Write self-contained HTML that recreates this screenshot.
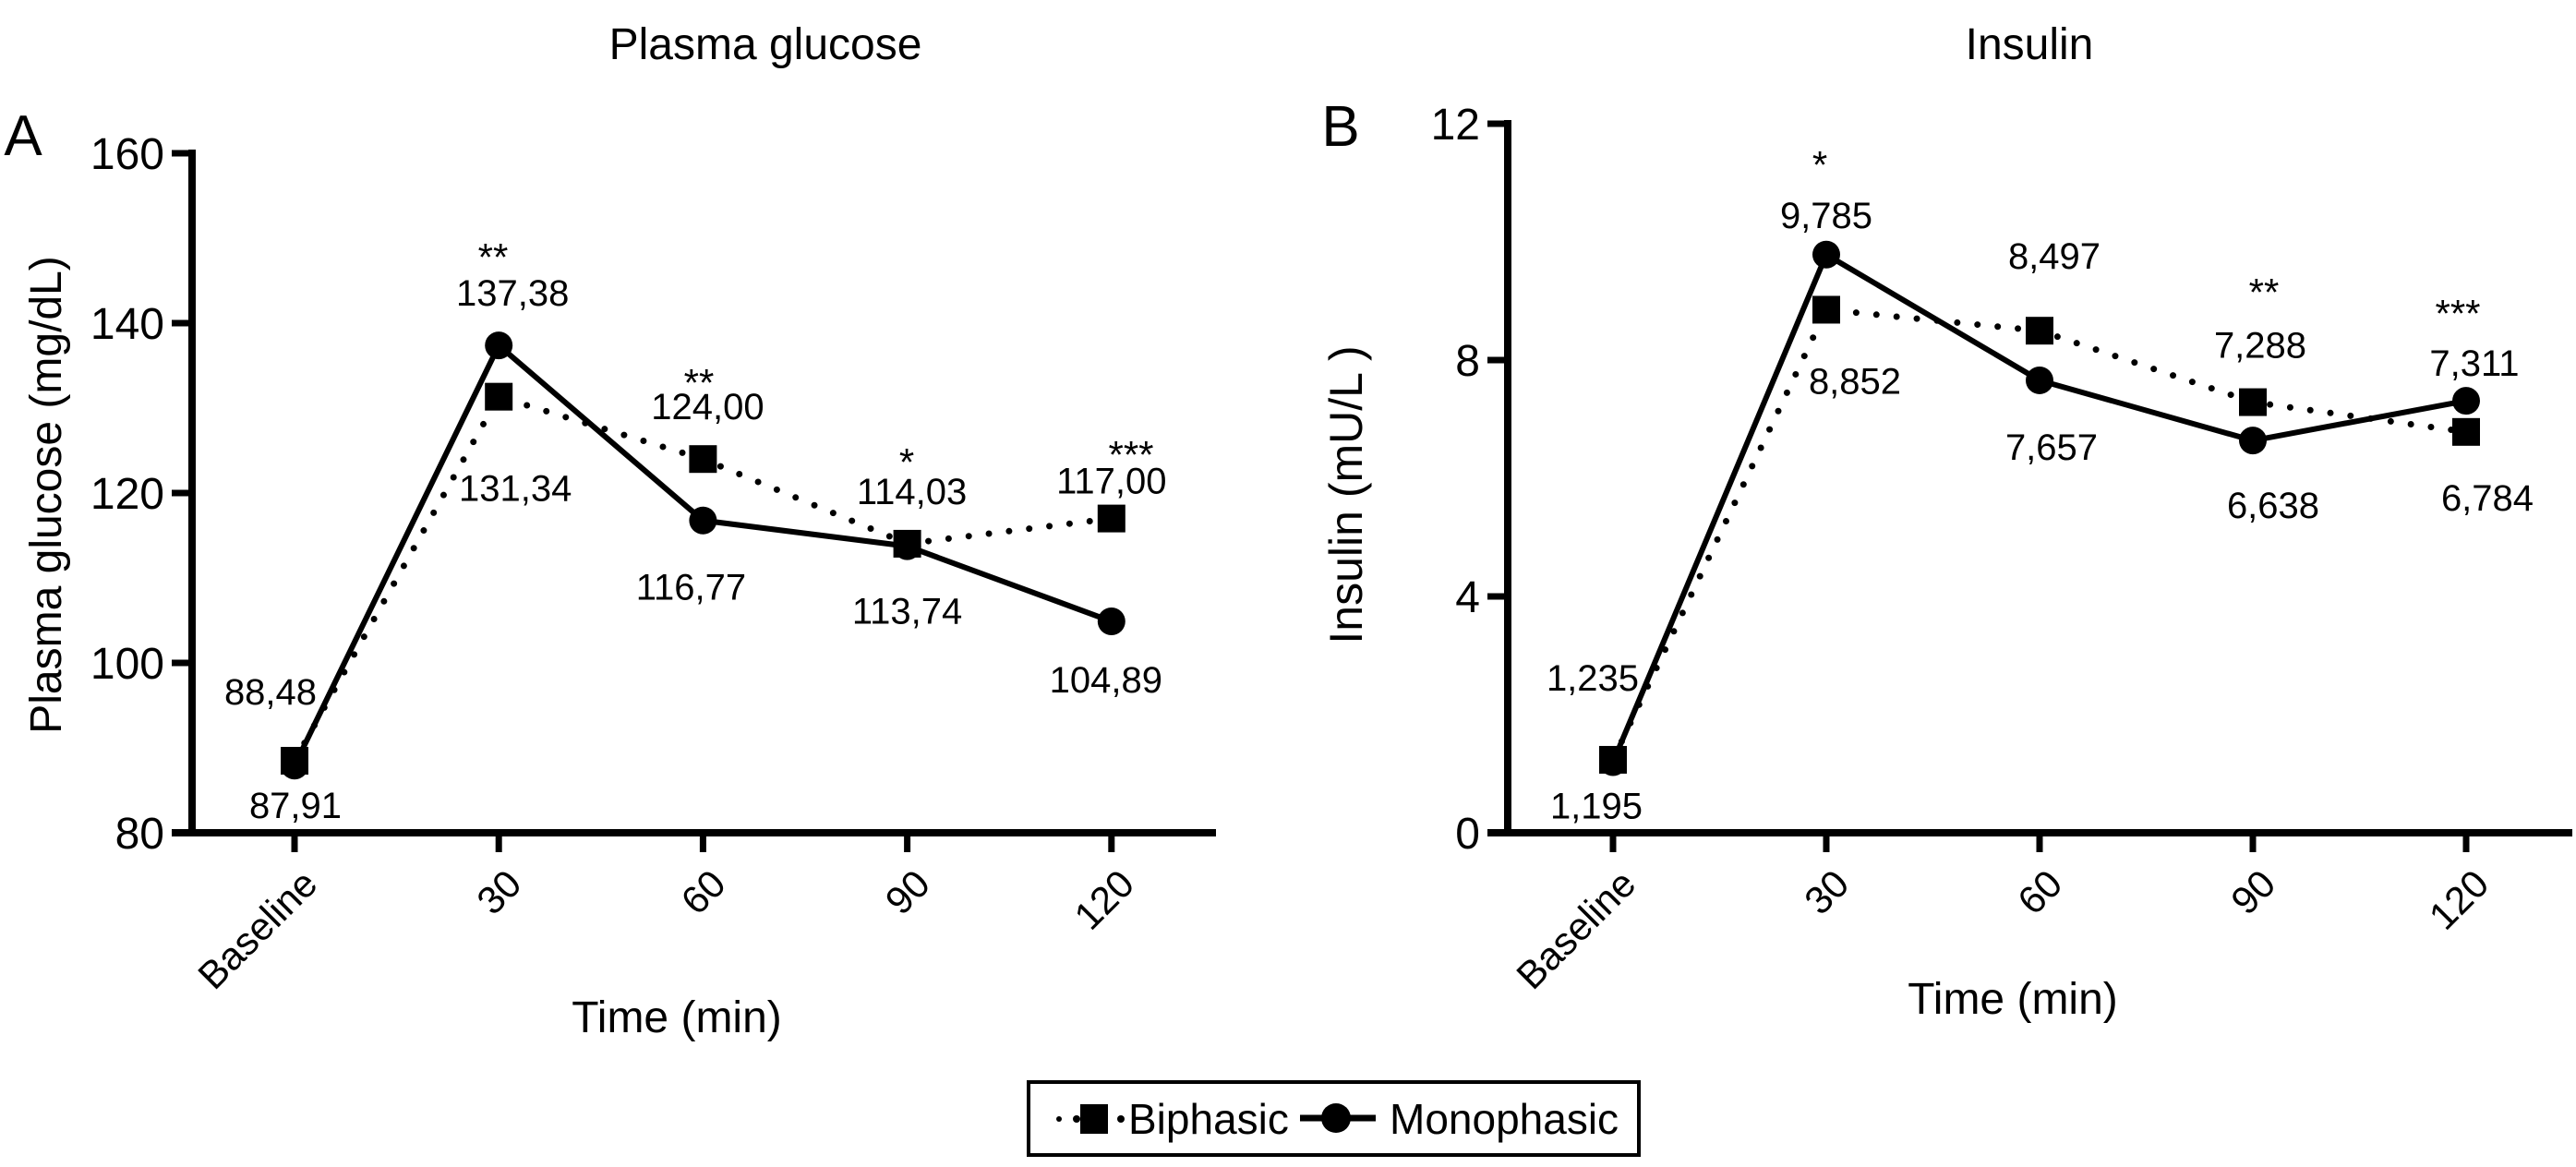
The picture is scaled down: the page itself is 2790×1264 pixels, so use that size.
<!DOCTYPE html>
<html><head><meta charset="utf-8"><style>
html,body{margin:0;padding:0;background:#fff;}
svg{display:block;font-family:"Liberation Sans",Arial,sans-serif;}
</style></head><body>
<svg id="chart" width="2790" height="1264" viewBox="0 0 2790 1264" xmlns="http://www.w3.org/2000/svg">
<g id="root"></g>
</svg>
<script>
const categories = ["Baseline","30","60","90","120"];
const glucoseBiphasic = [88.48,131.34,124.00,114.03,117.00];
const glucoseMonophasic = [87.91,137.38,116.77,113.74,104.89];
const insulinBiphasic = [1.235,8.852,8.497,7.288,6.784];
const insulinMonophasic = [1.195,9.785,7.657,6.638,7.311];
const glucoseStars = ["","**","**","*","***"];
const insulinStars = ["","*","","**","***"];
const glucoseTicks = [80,100,120,140,160];
const insulinTicks = [0,4,8,12];

const NS="http://www.w3.org/2000/svg";
const root=document.getElementById('root');
function mk(tag,attrs,parent){const e=document.createElementNS(NS,tag);for(const k in attrs)e.setAttribute(k,attrs[k]);(parent||root).appendChild(e);return e;}
function fmt(v,d){return v.toFixed(d).replace('.',',');}

function panel(cfg){
  const g=mk('g',{});
  
  
  const yS=v=>cfg.y0+(v-cfg.vmin)/(cfg.vmax-cfg.vmin)*(cfg.y1-cfg.y0);
  const xS=i=>cfg.cx0+i*cfg.dx;
  const ya=mk('line',{x1:cfg.ax,y1:cfg.y1-4,x2:cfg.ax,y2:cfg.y0+4,stroke:'#000','stroke-width':8},g);
  
  
  const xa=mk('line',{x1:cfg.ax-22,y1:cfg.y0,x2:cfg.xend,y2:cfg.y0,stroke:'#000','stroke-width':8},g);
  
  
  cfg.ticks.forEach(t=>{
    const y=yS(t);
    mk('line',{x1:cfg.ax-22,y1:y,x2:cfg.ax,y2:y,stroke:'#000','stroke-width':7},g);
    const tl=mk('text',{x:cfg.ax-30,y:y+17,'text-anchor':'end','font-size':48},g);
    tl.textContent=t;
    
    
  });
  categories.forEach((c,i)=>{
    const x=xS(i);
    mk('line',{x1:x,y1:cfg.y0,x2:x,y2:cfg.y0+21,stroke:'#000','stroke-width':7},g);
    const ex=x+27, ey=cfg.y0+58;
    const tl=mk('text',{x:ex,y:ey,'text-anchor':'end','font-size':42,transform:`rotate(-45 ${ex} ${ey})`},g);
    tl.textContent=c;
    
    
  });
  const bp=cfg.bi.map((v,i)=>`${xS(i)},${yS(v)}`).join(' ');
  const mp=cfg.mono.map((v,i)=>`${xS(i)},${yS(v)}`).join(' ');
  const bl=mk('polyline',{points:bp,fill:'none',stroke:'#000','stroke-width':7,'stroke-linecap':'round','stroke-dasharray':'0 22'},g);
  
  
  const ml=mk('polyline',{points:mp,fill:'none',stroke:'#000','stroke-width':6},g);
  
  
  cfg.mono.forEach((v,i)=>{
    const c=mk('circle',{cx:xS(i),cy:yS(v),r:15,fill:'#000'},g);
    
    
  });
  cfg.bi.forEach((v,i)=>{
    const r=mk('rect',{x:xS(i)-15,y:yS(v)-15,width:30,height:30,fill:'#000'},g);
    
    
  });
  function lab(v,i,off,name){
    const t=mk('text',{x:xS(i)+off[0],y:yS(v)+off[1],'text-anchor':'middle','font-size':40},g);
    t.textContent=fmt(v,cfg.dec);
    
    
  }
  cfg.bi.forEach((v,i)=>lab(v,i,cfg.biOff[i],'biphasic-value-label'));
  cfg.mono.forEach((v,i)=>lab(v,i,cfg.monoOff[i],'monophasic-value-label'));
  cfg.stars.forEach((s,i)=>{
    if(!s)return;
    const t=mk('text',{x:cfg.starPos[i][0],y:cfg.starPos[i][1],'text-anchor':'middle','font-size':42},g);
    t.textContent=s;
    
    
  });
  const tt=mk('text',{x:cfg.titleX,y:64,'text-anchor':'middle','font-size':48},g);
  tt.textContent=cfg.title;
  
  
  const lt=mk('text',{x:cfg.letterX,y:cfg.letterY,'text-anchor':'middle','font-size':62},g);
  lt.textContent=cfg.letter;
  
  
  const yt=mk('text',{x:cfg.ytX,y:536,'text-anchor':'middle','font-size':cfg.ytSize,transform:`rotate(-90 ${cfg.ytX} 536)`},g);
  yt.textContent=cfg.ytitle;
  
  
  const xt=mk('text',{x:cfg.xtX,y:cfg.xtY,'text-anchor':'middle','font-size':48},g);
  xt.textContent='Time (min)';
  
  
}

panel({name:'plasma-glucose-panel',ax:208,xend:1317,cx0:319,dx:221.2,y0:902,y1:166,vmin:80,vmax:160,
  ticks:glucoseTicks,bi:glucoseBiphasic,mono:glucoseMonophasic,dec:2,
  biOff:[[-26,-61],[18,113],[5,-43],[5,-43],[0,-27]],
  monoOff:[[1,57],[15,-43],[-13,86],[0,84],[-6,77]],
  stars:glucoseStars,starPos:[[0,0],[534,293],[757,429],[982,515],[1225,507]],
  title:'Plasma glucose',titleX:829,letter:'A',letterX:25,letterY:168,
  ytitle:'Plasma glucose (mg/dL)',ytSize:48,ytX:66,xtX:733,xtY:1118});
panel({name:'insulin-panel',ax:1633,xend:2786,cx0:1747,dx:231,y0:902,y1:134,vmin:0,vmax:12,
  ticks:insulinTicks,bi:insulinBiphasic,mono:insulinMonophasic,dec:3,
  biOff:[[-22,-75],[31,91],[16,-67],[8,-48],[23,85]],
  monoOff:[[-18,61],[0,-29],[13,86],[22,84],[9,-27]],
  stars:insulinStars,starPos:[[0,0],[1971,193],[0,0],[2452,331],[2662,354]],
  title:'Insulin',titleX:2198,letter:'B',letterX:1452,letterY:158,
  ytitle:'Insulin (mU/L  )',ytSize:50,ytX:1475,xtX:2180,xtY:1098});

const lg=mk('g',{});


mk('rect',{x:1114,y:1172,width:661,height:79,fill:'#fff',stroke:'#000','stroke-width':4},lg);
const lb=mk('g',{},lg);


mk('circle',{cx:1147,cy:1212,r:3,fill:'#000'},lb);
mk('circle',{cx:1166,cy:1212,r:4,fill:'#000'},lb);
mk('rect',{x:1170,y:1196,width:30,height:32,fill:'#000'},lb);
mk('circle',{cx:1214,cy:1212,r:4,fill:'#000'},lb);
const bt=mk('text',{x:1222,y:1228,'font-size':46},lb);
bt.textContent='Biphasic';
const lm=mk('g',{},lg);


mk('line',{x1:1408,y1:1211,x2:1490,y2:1211,stroke:'#000','stroke-width':7},lm);
mk('circle',{cx:1447,cy:1211,r:16,fill:'#000'},lm);
const mt=mk('text',{x:1505,y:1228,'font-size':46},lm);
mt.textContent='Monophasic';
</script>
</body></html>
